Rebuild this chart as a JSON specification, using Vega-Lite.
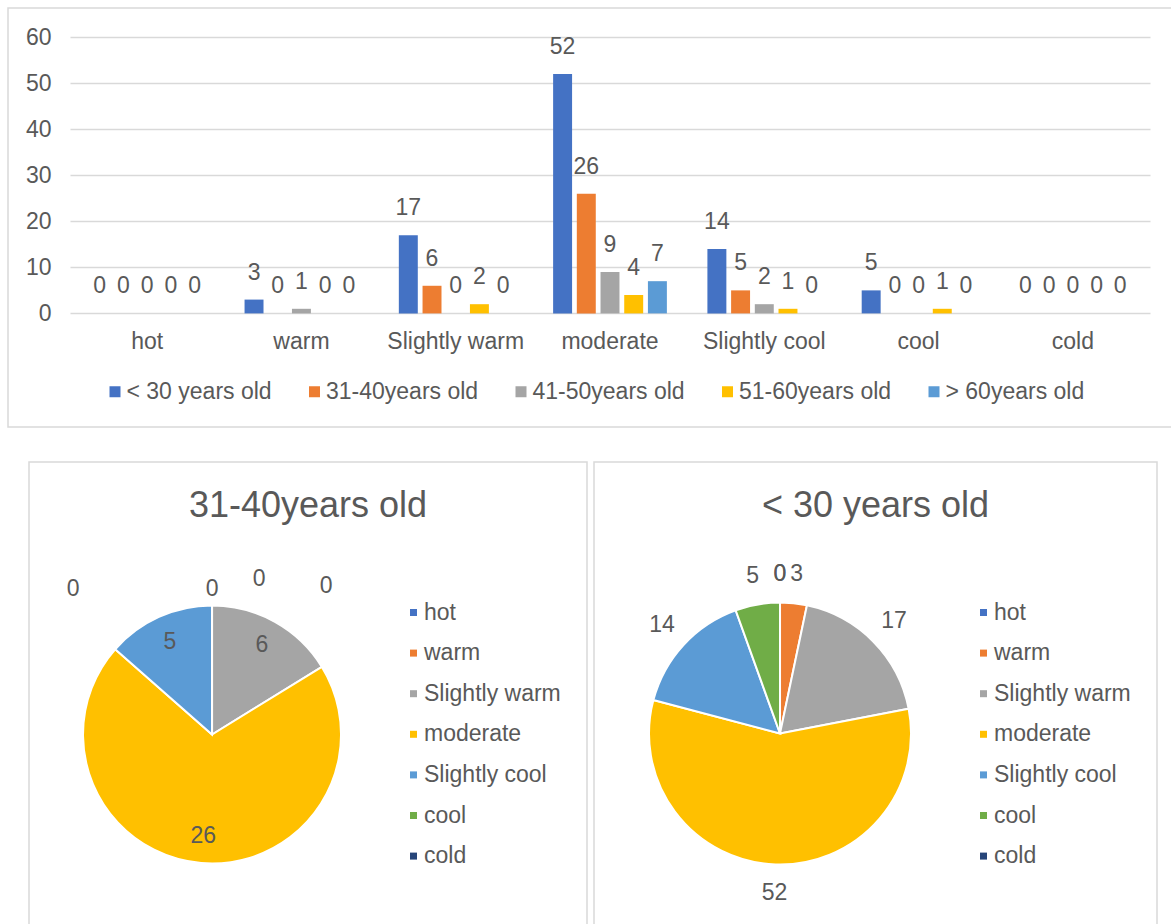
{
  "$schema": "https://vega.github.io/schema/vega-lite/v6.json",
  "padding": {"left": 7, "top": 7, "right": 0, "bottom": 0},
  "background": "white",
  "config": {
    "font": "Liberation Sans",
    "view": {"stroke": "#d9d9d9", "strokeWidth": 1.5},
    "title": {"color": "#595959", "fontWeight": "normal", "fontSize": 36, "anchor": "middle"},
    "legend": {"labelColor": "#595959", "labelFontSize": 23, "padding": 0, "symbolStrokeWidth": 0, "symbolType": "square"}
  },
  "datasets": {
    "bars": [
      {"cat": "hot", "grp": "< 30 years old", "v": 0},
      {"cat": "hot", "grp": "31-40years old", "v": 0},
      {"cat": "hot", "grp": "41-50years old", "v": 0},
      {"cat": "hot", "grp": "51-60years old", "v": 0},
      {"cat": "hot", "grp": "> 60years old", "v": 0},
      {"cat": "warm", "grp": "< 30 years old", "v": 3},
      {"cat": "warm", "grp": "31-40years old", "v": 0},
      {"cat": "warm", "grp": "41-50years old", "v": 1},
      {"cat": "warm", "grp": "51-60years old", "v": 0},
      {"cat": "warm", "grp": "> 60years old", "v": 0},
      {"cat": "Slightly warm", "grp": "< 30 years old", "v": 17},
      {"cat": "Slightly warm", "grp": "31-40years old", "v": 6},
      {"cat": "Slightly warm", "grp": "41-50years old", "v": 0},
      {"cat": "Slightly warm", "grp": "51-60years old", "v": 2},
      {"cat": "Slightly warm", "grp": "> 60years old", "v": 0},
      {"cat": "moderate", "grp": "< 30 years old", "v": 52},
      {"cat": "moderate", "grp": "31-40years old", "v": 26},
      {"cat": "moderate", "grp": "41-50years old", "v": 9},
      {"cat": "moderate", "grp": "51-60years old", "v": 4},
      {"cat": "moderate", "grp": "> 60years old", "v": 7},
      {"cat": "Slightly cool", "grp": "< 30 years old", "v": 14},
      {"cat": "Slightly cool", "grp": "31-40years old", "v": 5},
      {"cat": "Slightly cool", "grp": "41-50years old", "v": 2},
      {"cat": "Slightly cool", "grp": "51-60years old", "v": 1},
      {"cat": "Slightly cool", "grp": "> 60years old", "v": 0},
      {"cat": "cool", "grp": "< 30 years old", "v": 5},
      {"cat": "cool", "grp": "31-40years old", "v": 0},
      {"cat": "cool", "grp": "41-50years old", "v": 0},
      {"cat": "cool", "grp": "51-60years old", "v": 1},
      {"cat": "cool", "grp": "> 60years old", "v": 0},
      {"cat": "cold", "grp": "< 30 years old", "v": 0},
      {"cat": "cold", "grp": "31-40years old", "v": 0},
      {"cat": "cold", "grp": "41-50years old", "v": 0},
      {"cat": "cold", "grp": "51-60years old", "v": 0},
      {"cat": "cold", "grp": "> 60years old", "v": 0}
    ],
    "pie1": [
      {"cat": "hot", "i": 0, "v": 0},
      {"cat": "warm", "i": 1, "v": 0},
      {"cat": "Slightly warm", "i": 2, "v": 6},
      {"cat": "moderate", "i": 3, "v": 26},
      {"cat": "Slightly cool", "i": 4, "v": 5},
      {"cat": "cool", "i": 5, "v": 0},
      {"cat": "cold", "i": 6, "v": 0}
    ],
    "pie2": [
      {"cat": "hot", "i": 0, "v": 0},
      {"cat": "warm", "i": 1, "v": 3},
      {"cat": "Slightly warm", "i": 2, "v": 17},
      {"cat": "moderate", "i": 3, "v": 52},
      {"cat": "Slightly cool", "i": 4, "v": 14},
      {"cat": "cool", "i": 5, "v": 5},
      {"cat": "cold", "i": 6, "v": 0}
    ]
  },
  "spacing": 33,
  "resolve": {"scale": {"color": "independent"}, "legend": {"color": "independent"}},
  "vconcat": [
    {
      "width": 1180,
      "height": 419,
      "data": {"name": "bars"},
      "encoding": {
        "x": {
          "field": "cat", "type": "nominal",
          "sort": ["hot", "warm", "Slightly warm", "moderate", "Slightly cool", "cool", "cold"],
          "scale": {"range": [62, 1142], "paddingInner": 0, "paddingOuter": 0},
          "axis": {"title": null, "labelAngle": 0, "domain": false, "ticks": false, "tickSize": 0, "grid": false,
                   "labelPadding": 27, "labelBaseline": "middle", "offset": -113, "labelFontSize": 23,
                   "labelColor": "#595959", "labelOverlap": false}
        },
        "xOffset": {
          "field": "grp", "type": "nominal",
          "sort": ["< 30 years old", "31-40years old", "41-50years old", "51-60years old", "> 60years old"],
          "scale": {"paddingInner": 0.2, "paddingOuter": 0.855}
        },
        "y": {
          "field": "v", "type": "quantitative",
          "scale": {"domain": [0, 60], "range": [305.4, 29.2], "nice": false},
          "axis": {"title": null, "values": [0, 10, 20, 30, 40, 50, 60], "offset": -62, "domain": false,
                   "ticks": false, "tickSize": 0, "labelPadding": 19, "labelFontSize": 23, "labelColor": "#595959",
                   "gridColor": "#d9d9d9", "gridWidth": 1.5}
        }
      },
      "layer": [
        {
          "mark": {"type": "bar"},
          "encoding": {
            "color": {
              "field": "grp", "type": "nominal",
              "scale": {"domain": ["< 30 years old", "31-40years old", "41-50years old", "51-60years old", "> 60years old"],
                        "range": ["#4472C4", "#ED7D31", "#A5A5A5", "#FFC000", "#5B9BD5"]},
              "legend": {"title": null, "orient": "none", "legendX": 95.5, "legendY": 372, "direction": "horizontal",
                         "columns": 5, "symbolSize": 121, "columnPadding": 30.5, "labelOffset": 0}
            }
          }
        },
        {
          "mark": {"type": "text", "dy": -27, "baseline": "middle", "fontSize": 23, "color": "#595959"},
          "encoding": {"text": {"field": "v", "type": "quantitative"}}
        }
      ]
    },
    {
      "spacing": 5,
      "resolve": {"scale": {"color": "independent"}, "legend": {"color": "independent"}},
      "hconcat": [
        {
          "width": 15, "height": 10,
          "view": {"stroke": null},
          "data": {"values": []},
          "mark": "point"
        },
        {
          "width": 558, "height": 470,
          "data": {"name": "pie1"},
          "title": {"text": "31-40years old", "offset": -63},
          "encoding": {
            "theta": {"field": "v", "type": "quantitative", "stack": true},
            "order": {"field": "i", "type": "quantitative"},
            "x": {"datum": 0.328, "type": "quantitative", "scale": {"domain": [0, 1]}, "axis": null},
            "y": {"datum": 0.4202, "type": "quantitative", "scale": {"domain": [0, 1]}, "axis": null}
          },
          "layer": [
            {
              "mark": {"type": "arc", "outerRadius": 129, "stroke": "#ffffff", "strokeWidth": 2},
              "encoding": {
                "color": {
                  "field": "cat", "type": "nominal",
                  "scale": {"domain": ["hot", "warm", "Slightly warm", "moderate", "Slightly cool", "cool", "cold"],
                            "range": ["#4472C4", "#ED7D31", "#A5A5A5", "#FFC000", "#5B9BD5", "#70AD47", "#264478"]},
                  "legend": {"title": null, "orient": "none", "legendX": 373, "legendY": 139, "direction": "vertical",
                             "symbolSize": 49, "rowPadding": 16.6, "labelOffset": -1}
                }
              }
            },
            {
              "transform": [{"filter": "datum.v > 0"}],
              "mark": {"type": "text", "radius": 102, "baseline": "middle", "fontSize": 23, "color": "#595959"},
              "encoding": {"text": {"field": "v", "type": "quantitative"}}
            },
            {
              "transform": [{"filter": "datum.cat == 'cold'"}],
              "mark": {"type": "text", "radius": 146, "baseline": "middle", "fontSize": 23, "color": "#595959"},
              "encoding": {"text": {"field": "v", "type": "quantitative"}}
            },
            {
              "transform": [{"filter": "datum.cat == 'cool'"}],
              "mark": {"type": "text", "radius": 146, "dx": -139, "baseline": "middle", "fontSize": 23, "color": "#595959"},
              "encoding": {"text": {"field": "v", "type": "quantitative"}}
            },
            {
              "transform": [{"filter": "datum.cat == 'hot'"}],
              "mark": {"type": "text", "radius": 146, "dx": 47, "dy": -10, "baseline": "middle", "fontSize": 23, "color": "#595959"},
              "encoding": {"text": {"field": "v", "type": "quantitative"}}
            },
            {
              "transform": [{"filter": "datum.cat == 'warm'"}],
              "mark": {"type": "text", "radius": 146, "dx": 114, "dy": -3, "baseline": "middle", "fontSize": 23, "color": "#595959"},
              "encoding": {"text": {"field": "v", "type": "quantitative"}}
            }
          ]
        },
        {
          "width": 563, "height": 470,
          "data": {"name": "pie2"},
          "title": {"text": "< 30 years old", "offset": -63},
          "encoding": {
            "theta": {"field": "v", "type": "quantitative", "stack": true},
            "order": {"field": "i", "type": "quantitative"},
            "x": {"datum": 0.3304, "type": "quantitative", "scale": {"domain": [0, 1]}, "axis": null},
            "y": {"datum": 0.4223, "type": "quantitative", "scale": {"domain": [0, 1]}, "axis": null}
          },
          "layer": [
            {
              "mark": {"type": "arc", "outerRadius": 131, "stroke": "#ffffff", "strokeWidth": 2},
              "encoding": {
                "color": {
                  "field": "cat", "type": "nominal",
                  "scale": {"domain": ["hot", "warm", "Slightly warm", "moderate", "Slightly cool", "cool", "cold"],
                            "range": ["#4472C4", "#ED7D31", "#A5A5A5", "#FFC000", "#5B9BD5", "#70AD47", "#264478"]},
                  "legend": {"title": null, "orient": "none", "legendX": 378, "legendY": 139, "direction": "vertical",
                             "symbolSize": 49, "rowPadding": 16.6, "labelOffset": -1}
                }
              }
            },
            {
              "mark": {"type": "text", "radius": 160, "baseline": "middle", "fontSize": 23, "color": "#595959"},
              "encoding": {"text": {"field": "v", "type": "quantitative"}}
            }
          ]
        }
      ]
    }
  ]
}
